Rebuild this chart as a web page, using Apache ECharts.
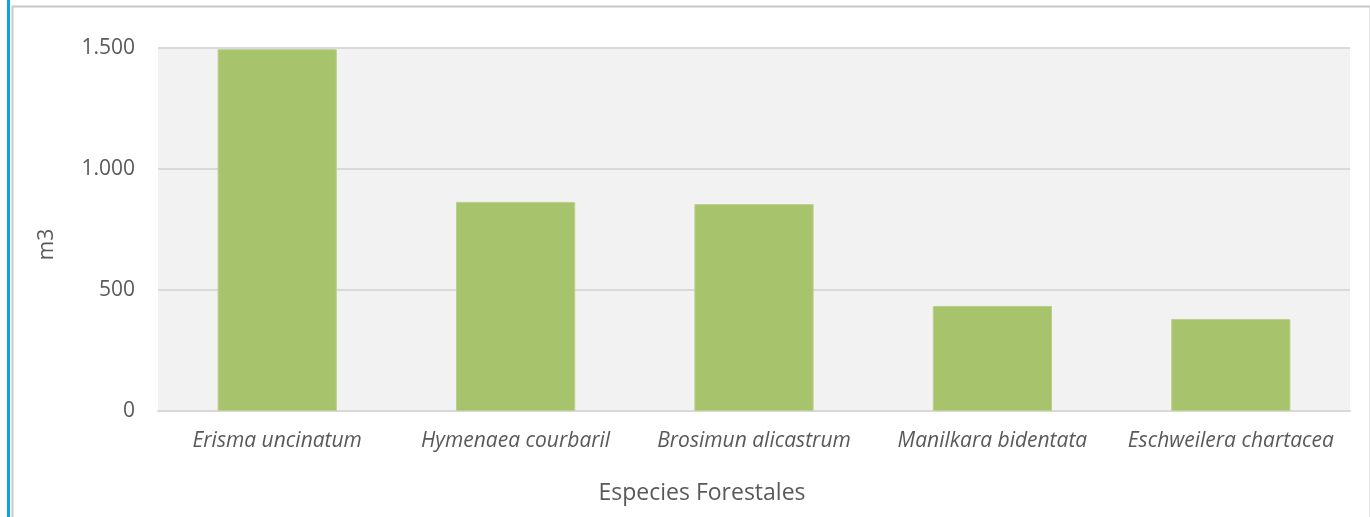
<!DOCTYPE html>
<html><head><meta charset="utf-8">
<script src="https://cdn.jsdelivr.net/npm/echarts@6/dist/echarts.min.js"></script>
<style>html,body{margin:0;padding:0;background:#fff}#c{width:1370px;height:517px}</style>
</head><body><div id="c"></div>
<script>
const categories = ['Erisma uncinatum','Hymenaea courbaril','Brosimun alicastrum','Manilkara bidentata','Eschweilera chartacea'];
const values = [1495, 864, 855, 434, 380];
const yTicks = [0, 500, 1000, 1500];

const chart = echarts.init(document.getElementById('c'), null, {renderer:'canvas'});
const font = '"Open Sans", sans-serif';
chart.setOption({
  animation:false,
  graphic:[
    {type:'rect', left:10, top:4, shape:{width:1358, height:520}, style:{fill:'none', stroke:'#c8c8c8', lineWidth:2}, z:-10},
    {type:'rect', left:7, top:0, shape:{width:3, height:517}, style:{fill:'#0aa3e3'}, z:10}
  ],
  grid:{left:158, right:20, top:48, bottom:106, show:true, backgroundColor:'#f2f2f2', borderWidth:0,
        containLabel:false, outerBoundsMode:'none'},
  xAxis:{
    type:'category', data:categories,
    name:'Especies Forestales', nameLocation:'middle', nameGap:71,
    nameTextStyle:{fontFamily:font, fontSize:23, color:'#595959', padding:[0,104,0,0]},
    axisTick:{show:false},
    axisLine:{lineStyle:{color:'#d9d9d9', width:2}},
    axisLabel:{fontFamily:font, fontSize:21, fontStyle:'italic', color:'#595959', margin:20, interval:0, hideOverlap:false}
  },
  yAxis:{
    type:'value', min:0, max:1500, interval:500,
    name:'m3', nameLocation:'middle', nameGap:100, nameRotate:90,
    nameTextStyle:{fontFamily:font, fontSize:21, color:'#595959', padding:[0,30,0,0]},
    axisLine:{show:false}, axisTick:{show:false},
    splitLine:{lineStyle:{color:'#d9d9d9', width:2}},
    axisLabel:{fontFamily:font, fontSize:21, color:'#595959', margin:23,
      formatter:v => yTicks.includes(v) ? v.toLocaleString('de-DE') : ''}
  },
  series:[{
    type:'bar', data:values, barWidth:'50%',
    itemStyle:{color:'#a7c36c', borderColor:'#b9d08b', borderWidth:1}
  }]
});
</script></body></html>
